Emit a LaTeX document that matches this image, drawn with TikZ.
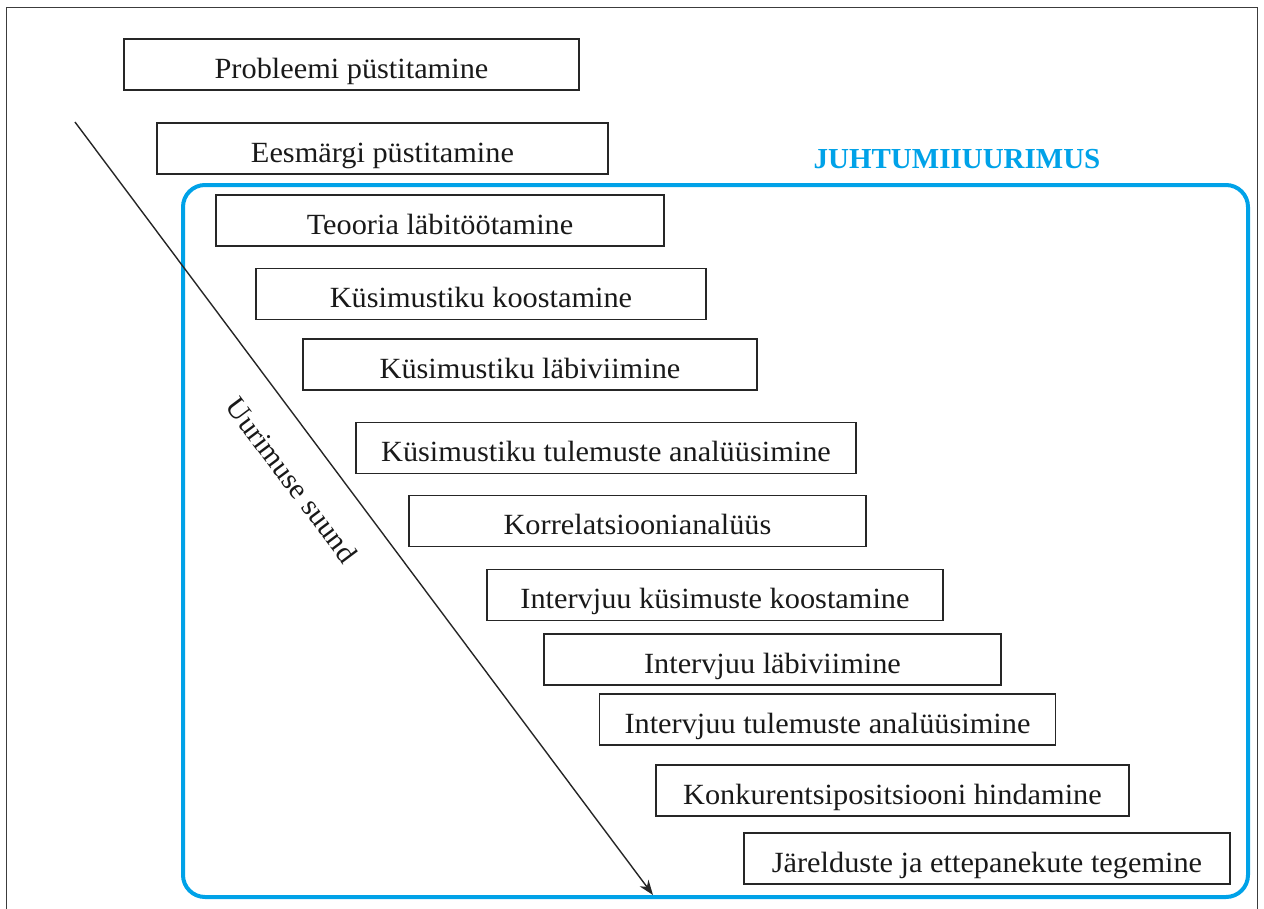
\documentclass[tikz,border=0pt]{standalone}
\usepackage{fontspec}
\setmainfont{Liberation Serif}[FakeStretch=1.035]
\newfontfamily\titlefont{Liberation Serif}
\usetikzlibrary{arrows.meta}
\definecolor{jblue}{RGB}{0,162,232}
\definecolor{frame}{RGB}{60,60,60}
\tikzset{
  stepbox/.style={draw=black!85, line width=1.4pt, inner sep=0pt, minimum height=51pt,
    text height=27pt, text depth=0pt, font=\fontsize{29.3}{34}\selectfont, text=black!90},
}
\begin{document}
\begin{tikzpicture}[x=1pt,y=1pt]
\useasboundingbox (0,0) rectangle (1264,-908);
% outer frame
\draw[frame, line width=1pt] (6,-920) -- (6,-7) -- (1257,-7) -- (1257,-920);
% case study frame
\node[font=\titlefont\bfseries\fontsize{29}{34}\selectfont, text=jblue, anchor=base] (title) at (957,-168) {JUHTUMIIUURIMUS};
\draw[jblue, line width=4pt, rounded corners=22pt] (183,-185) rectangle (1248,-897);
% boxes
\node[stepbox, minimum width=455pt] (b1) at (351.5,-64.5) {Probleemi püstitamine};
\node[stepbox, minimum width=451pt] (b2) at (382.5,-148.5) {Eesmärgi püstitamine};
\node[stepbox, minimum width=448pt] (b3) at (440,-220.5) {Teooria läbitöötamine};
\node[stepbox, minimum width=450pt] (b4) at (481,-294) {Küsimustiku koostamine};
\node[stepbox, minimum width=454pt] (b5) at (530,-364.5) {Küsimustiku läbiviimine};
\node[stepbox, minimum width=500pt] (b6) at (606,-448) {Küsimustiku tulemuste analüüsimine};
\node[stepbox, minimum width=457pt] (b7) at (637.5,-521) {Korrelatsioonianalüüs};
\node[stepbox, minimum width=456pt] (b8) at (715,-595) {Intervjuu küsimuste koostamine};
\node[stepbox, minimum width=457pt] (b9) at (772.5,-659.5) {Intervjuu läbiviimine};
\node[stepbox, minimum width=456pt] (b10) at (827.5,-719.5) {Intervjuu tulemuste analüüsimine};
\node[stepbox, minimum width=473pt] (b11) at (892.5,-790.5) {Konkurentsipositsiooni hindamine};
\node[stepbox, minimum width=486pt] (b12) at (987,-858.5) {Järelduste ja ettepanekute tegemine};
% direction arrow
\coordinate (as) at (75,-122);
\coordinate (ae) at (653,-895);
\draw[black!85, line width=1.4pt, -{Stealth[length=15pt,width=11pt]}] (as) -- (ae);
\node[font=\fontsize{29}{34}\selectfont, rotate=-53.2, text=black!90] (dir) at (292,-480) {Uurimuse suund};
\end{tikzpicture}
\end{document}
